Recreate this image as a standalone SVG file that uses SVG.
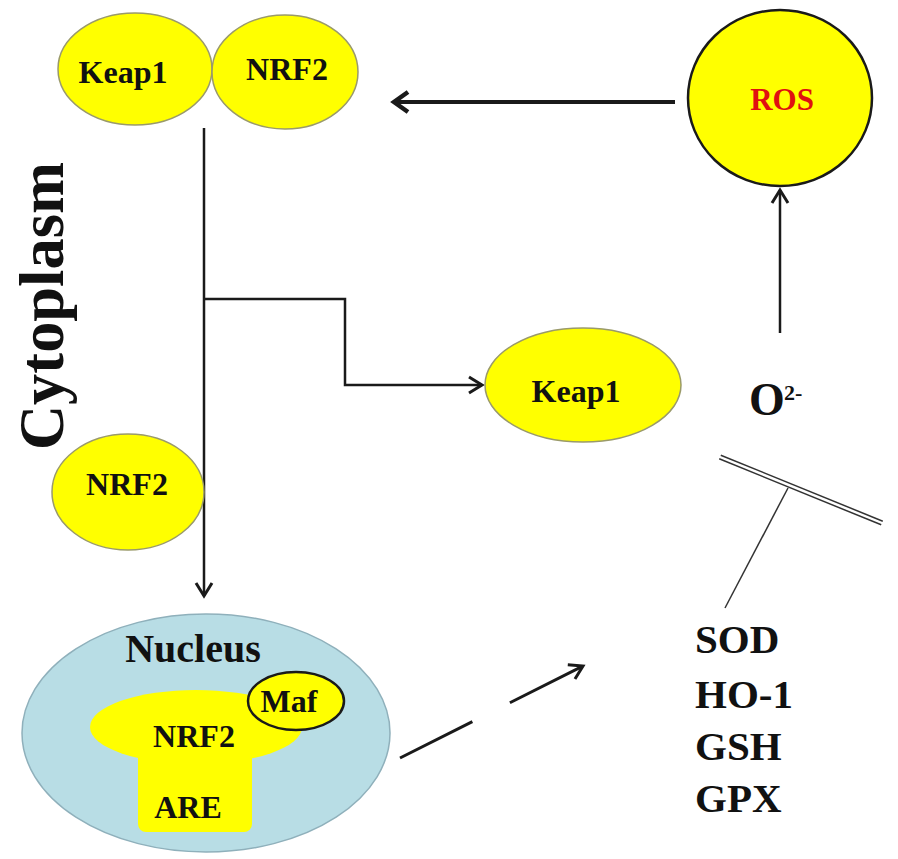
<svg xmlns="http://www.w3.org/2000/svg" width="898" height="859" viewBox="0 0 898 859">
<style>
.t{font-family:"Liberation Serif","Times New Roman",serif;font-weight:bold;fill:#111;text-anchor:middle}
.y{fill:#ffff00;stroke:#9a9a6a;stroke-width:1.5}
.ln{fill:none;stroke:#1a1a1a;stroke-width:2.5}
.thin{fill:none;stroke:#333;stroke-width:1.5}
</style>
<defs>
<marker id="ah" markerUnits="userSpaceOnUse" markerWidth="22" markerHeight="22" viewBox="0 0 22 22" refX="17" refY="11" orient="auto">
<path d="M4,3 L17,11 L4,19" fill="none" stroke="#1a1a1a" stroke-width="3"/>
</marker>
<marker id="ahb" markerUnits="userSpaceOnUse" markerWidth="26" markerHeight="26" viewBox="0 0 26 26" refX="20" refY="13" orient="auto">
<path d="M6,3 L20,13 L6,23" fill="none" stroke="#1a1a1a" stroke-width="4.5"/>
</marker>
</defs>
<rect width="898" height="859" fill="#fff"/>

<g id="connectors">
<line x1="675" y1="102" x2="394" y2="102" stroke="#1a1a1a" stroke-width="4" marker-end="url(#ahb)"/>
<line class="ln" x1="780" y1="333" x2="780" y2="190" marker-end="url(#ah)"/>
<line class="ln" x1="204" y1="128" x2="204" y2="596" marker-end="url(#ah)"/>
<polyline class="ln" points="204,299 345,299 345,385 482,385" marker-end="url(#ah)"/>
<line x1="400" y1="758" x2="583" y2="666" stroke="#1a1a1a" stroke-width="3" stroke-dasharray="81 42" marker-end="url(#ah)"/>
<line class="thin" x1="720.8" y1="455.2" x2="882.8" y2="521.2"/>
<line class="thin" x1="719.2" y1="458.8" x2="881.2" y2="524.8"/>
<line class="thin" x1="788" y1="488" x2="725" y2="608"/>
</g>

<g id="keap1-top">
<ellipse class="y" cx="135" cy="69" rx="77" ry="56"/>
<text class="t" x="123" y="83" font-size="32">Keap1</text>
</g>
<g id="nrf2-top">
<ellipse class="y" cx="285" cy="72" rx="73" ry="57"/>
<text class="t" x="287" y="80" font-size="32">NRF2</text>
</g>
<g id="ros">
<ellipse cx="780" cy="98" rx="92" ry="88" fill="#ffff00" stroke="#1a1a1a" stroke-width="2.5"/>
<text class="t" x="782" y="110" font-size="31" style="fill:#e01010">ROS</text>
</g>
<g id="cytoplasm">
<text class="t" transform="translate(63,306) rotate(-90)" font-size="64" textLength="288" lengthAdjust="spacingAndGlyphs">Cytoplasm</text>
</g>
<g id="keap1-mid">
<ellipse class="y" cx="583" cy="385" rx="98" ry="57"/>
<text class="t" x="576" y="402" font-size="32">Keap1</text>
</g>
<g id="o2">
<text class="t" x="749" y="415" font-size="46" style="text-anchor:start">O</text>
<text class="t" x="784" y="400" font-size="22" style="text-anchor:start">2-</text>
</g>
<g id="nrf2-left">
<ellipse class="y" cx="128" cy="492" rx="76" ry="58"/>
<text class="t" x="127" y="495" font-size="32">NRF2</text>
</g>
<g id="nucleus">
<ellipse cx="206" cy="733" rx="184" ry="119" fill="#b8dde5" stroke="#8fb0bb" stroke-width="1.5"/>
<text class="t" x="193" y="662" font-size="40">Nucleus</text>
<g id="nrf2-are">
<ellipse cx="196" cy="727" rx="106" ry="37" fill="#ffff00"/>
<rect x="138" y="727" width="114" height="105" rx="8" fill="#ffff00"/>
<text class="t" x="194" y="747" font-size="32">NRF2</text>
<text class="t" x="188" y="818" font-size="32">ARE</text>
</g>
<g id="maf">
<ellipse cx="296" cy="701" rx="48" ry="29" fill="#ffff00" stroke="#1a1a1a" stroke-width="2.5"/>
<text class="t" x="289" y="712" font-size="32">Maf</text>
</g>
</g>
<g id="enzymes">
<text class="t" x="695" y="653" font-size="41" style="text-anchor:start">SOD</text>
<text class="t" x="695" y="708" font-size="41" style="text-anchor:start">HO-1</text>
<text class="t" x="695" y="760" font-size="41" style="text-anchor:start">GSH</text>
<text class="t" x="695" y="812" font-size="41" style="text-anchor:start">GPX</text>
</g>
</svg>
